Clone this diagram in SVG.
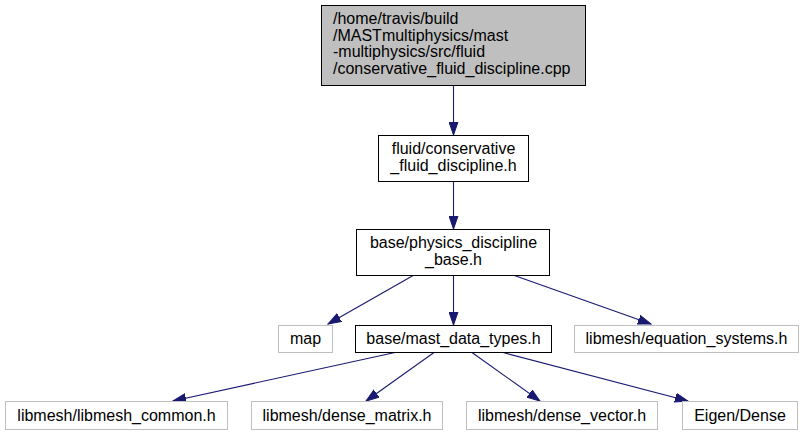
<svg xmlns="http://www.w3.org/2000/svg" width="804" height="436" viewBox="0 0 804 436">
<style>
text{font-family:"Liberation Sans",Arial,Helvetica,sans-serif;font-size:16px;fill:#000}
.c{text-anchor:middle}
.n rect{fill:#fff;stroke:#000;stroke-width:1}
.n rect.g{stroke:#bfbfbf}
.n rect.top{fill:#bfbfbf}
#edges line{stroke:#191970;stroke-width:1.1;fill:none}
</style>
<defs>
<marker id="ah" markerUnits="userSpaceOnUse" markerWidth="14" markerHeight="10" viewBox="0 -5 14 10" refX="13" refY="0" orient="auto">
<path d="M0,-4.5 L13,0 L0,4.5 Z" fill="#191970" stroke="#191970" stroke-width="1"/>
</marker>
</defs>
<rect width="804" height="436" fill="#fff"/>
<g id="edges">
<line x1="453.5" y1="86" x2="453.5" y2="135" marker-end="url(#ah)"/>
<line x1="453.5" y1="181" x2="453.5" y2="229" marker-end="url(#ah)"/>
<line x1="414" y1="275" x2="328" y2="324" marker-end="url(#ah)"/>
<line x1="453.5" y1="275" x2="453.5" y2="325" marker-end="url(#ah)"/>
<line x1="513" y1="275" x2="651" y2="324" marker-end="url(#ah)"/>
<line x1="395" y1="352.5" x2="173" y2="401" marker-end="url(#ah)"/>
<line x1="434" y1="352.5" x2="366" y2="401" marker-end="url(#ah)"/>
<line x1="472" y1="352.5" x2="540" y2="401" marker-end="url(#ah)"/>
<line x1="503" y1="352.5" x2="688" y2="401" marker-end="url(#ah)"/>
</g>
<g id="node1" class="n">
<rect class="top" x="321.5" y="5.5" width="264" height="80"/>
<text x="333" y="24">/home/travis/build</text>
<text x="333" y="40.5">/MASTmultiphysics/mast</text>
<text x="333" y="57">-multiphysics/src/fluid</text>
<text x="333" y="73.5">/conservative_fluid_discipline.cpp</text>
</g>
<g id="node2" class="n">
<rect x="378.5" y="135.5" width="150" height="46"/>
<text class="c" x="453.5" y="154">fluid/conservative</text>
<text class="c" x="453.5" y="170.5">_fluid_discipline.h</text>
</g>
<g id="node3" class="n">
<rect x="356.5" y="229.5" width="193" height="46"/>
<text class="c" x="453.5" y="248">base/physics_discipline</text>
<text class="c" x="453.5" y="264.5">_base.h</text>
</g>
<g id="node4" class="n">
<rect class="g" x="278.5" y="325.5" width="54" height="27"/>
<text class="c" x="305.5" y="344">map</text>
</g>
<g id="node5" class="n">
<rect x="355.5" y="325.5" width="196" height="27"/>
<text class="c" x="453.5" y="344">base/mast_data_types.h</text>
</g>
<g id="node6" class="n">
<rect class="g" x="574.5" y="325.5" width="224" height="27"/>
<text class="c" x="686.5" y="344">libmesh/equation_systems.h</text>
</g>
<g id="node7" class="n">
<rect class="g" x="5.5" y="401.5" width="222" height="28"/>
<text class="c" x="116.5" y="421">libmesh/libmesh_common.h</text>
</g>
<g id="node8" class="n">
<rect class="g" x="251.5" y="401.5" width="191" height="28"/>
<text class="c" x="347" y="421">libmesh/dense_matrix.h</text>
</g>
<g id="node9" class="n">
<rect class="g" x="466.5" y="401.5" width="191" height="28"/>
<text class="c" x="562" y="421">libmesh/dense_vector.h</text>
</g>
<g id="node10" class="n">
<rect class="g" x="682.5" y="401.5" width="115" height="28"/>
<text class="c" x="740" y="421">Eigen/Dense</text>
</g>
</svg>
